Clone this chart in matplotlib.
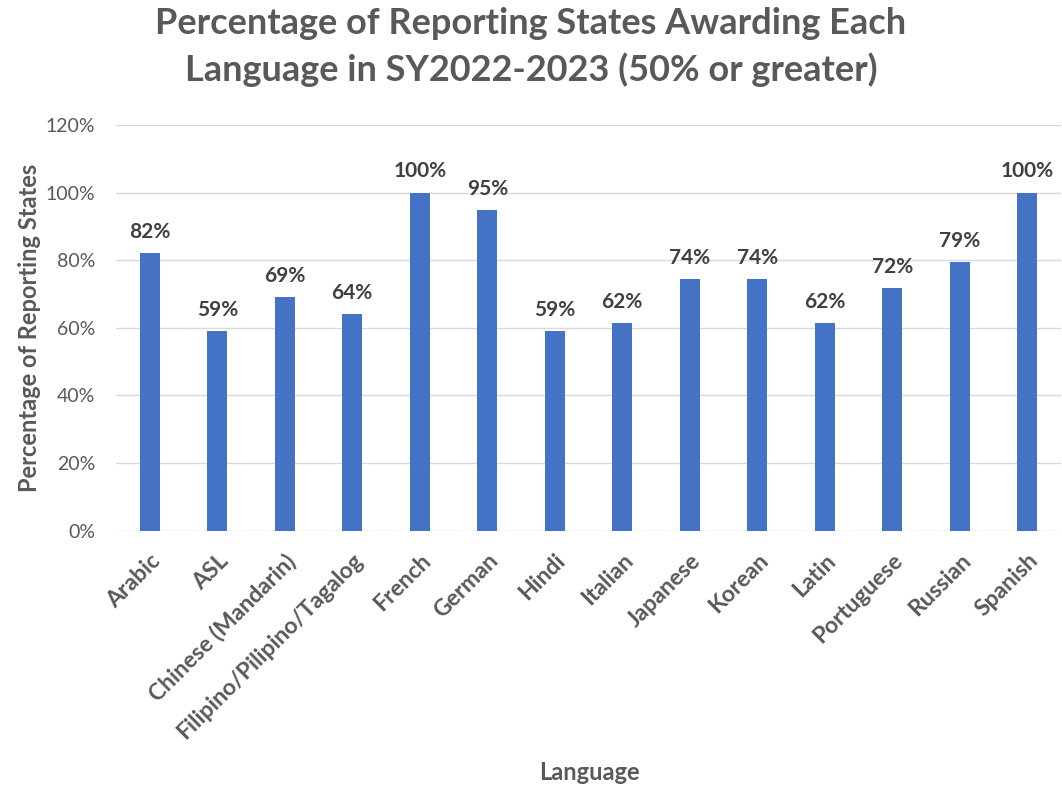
import matplotlib.pyplot as plt
from matplotlib.ticker import PercentFormatter

# --- data ----------------------------------------------------------------
languages = ["Arabic", "ASL", "Chinese (Mandarin)", "Filipino/Pilipino/Tagalog",
             "French", "German", "Hindi", "Italian", "Japanese", "Korean",
             "Latin", "Portuguese", "Russian", "Spanish"]
pct_states = [0.82, 0.59, 0.69, 0.64, 1.00, 0.948, 0.59, 0.615,
              0.744, 0.744, 0.615, 0.718, 0.794, 1.00]

BAR = "#4472C4"
GRAY = "#595959"
LABEL = "#404040"
FONT = ["Lato", "DejaVu Sans"]

plt.rcParams["font.family"] = FONT

fig = plt.figure(figsize=(10.62, 7.91), dpi=100)
ax = fig.add_axes([116 / 1062, 1 - 530.5 / 791, 945 / 1062, 405.5 / 791])

x = range(len(languages))
bars = ax.bar(x, pct_states, width=0.29, color=BAR, zorder=3)
for rect, v in zip(bars, pct_states):
    ax.annotate(f"{v:.0%}", (rect.get_x() + rect.get_width() / 2, v),
                xytext=(0, 8), textcoords="offset points", ha="center", va="bottom",
                fontsize=15, fontweight="bold", color=LABEL)

ax.set_xlim(-0.5, len(languages) - 0.5)
ax.set_ylim(0, 1.2)
ax.set_yticks([0, 0.2, 0.4, 0.6, 0.8, 1.0, 1.2])
ax.yaxis.set_major_formatter(PercentFormatter(1.0, decimals=0))
ax.grid(axis="y", color="#D9D9D9", lw=1.0, zorder=0)
for s in ax.spines.values():
    s.set_visible(False)
ax.tick_params(axis="both", length=0, colors=GRAY)
ax.tick_params(axis="y", labelsize=14, pad=15)

ax.set_xticks(list(x))
ax.set_xticklabels(languages, rotation=45, ha="right", rotation_mode="anchor",
                   fontsize=16.5, fontweight="bold", color=GRAY)
ax.tick_params(axis="x", pad=14)

fig.text(30 / 1062, 1 - 328 / 791, "Percentage of Reporting States", rotation=90,
         ha="center", va="center", fontsize=17, fontweight="bold", color=GRAY)
fig.text(589 / 1062, 1 - 772 / 791, "Language", ha="center", va="center",
         fontsize=17, fontweight="bold", color=GRAY)
fig.text(531 / 1062, 1 - 47 / 791,
         "Percentage of Reporting States Awarding Each\nLanguage in SY2022-2023 (50% or greater)",
         ha="center", va="center", fontsize=26, fontweight="bold", color=GRAY,
         linespacing=1.45)

fig.savefig("out.png", dpi=100)
